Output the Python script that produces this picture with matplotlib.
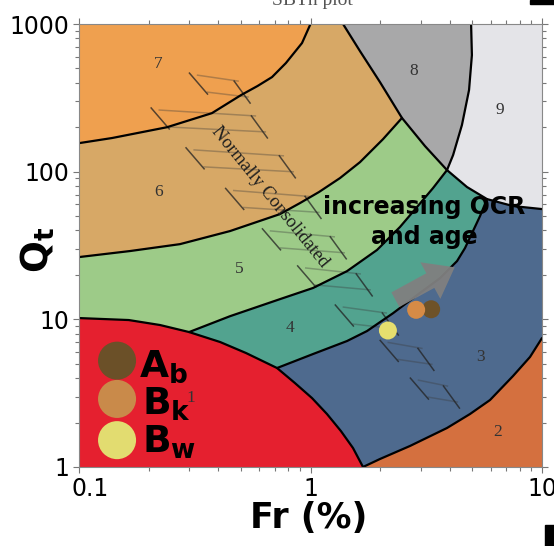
import matplotlib
matplotlib.use('Agg')
import numpy as np
import matplotlib.pyplot as plt
import matplotlib.transforms as mtransforms
from matplotlib.patches import Polygon, Rectangle
from matplotlib.ticker import NullFormatter

# zone boundaries, (Fr %, Qt), left to right
b76_fr = [0.1, 0.139, 0.24, 0.375, 0.501, 0.59, 0.682, 0.783, 0.919, 1.0]
b76_qt = [156, 169, 200, 249, 330, 380, 437, 544, 743, 1000]

b65_fr = [0.1, 0.166, 0.273, 0.449, 0.738, 0.901, 1.088, 1.341, 1.636, 2.057, 2.484]
b65_qt = [26.4, 29.0, 32.3, 39.6, 51.6, 61.3, 72.8, 90.5, 116, 166, 231]

b54_fr = [0.299, 0.449, 0.738, 1.025, 1.438, 1.938, 2.435, 2.884, 3.382, 3.887]
b54_qt = [8.2, 10.5, 13.7, 16.3, 21.2, 29.5, 42.2, 57.6, 77.4, 102.5]

b43_fr = [0.717, 1.025, 1.438, 1.754, 2.272, 2.972, 3.626, 4.295, 4.65, 5.034, 5.398, 5.787]
b43_qt = [4.68, 5.82, 7.13, 8.33, 11.0, 15.1, 19.0, 24.8, 30.4, 39.6, 50.0, 65.2]

b32_fr = [1.686, 1.996, 2.69, 3.887, 4.887, 5.963, 7.494, 8.875, 10]
b32_qt = [1.0, 1.133, 1.388, 1.837, 2.285, 2.842, 4.13, 5.56, 7.47]

b1_fr = [0.1, 0.164, 0.224, 0.299, 0.407, 0.527, 0.717, 0.857, 1.015, 1.178, 1.354, 1.526, 1.686]
b1_qt = [10.2, 9.89, 9.15, 8.2, 7.02, 5.91, 4.68, 3.70, 2.93, 2.285, 1.75, 1.345, 1.0]

# outer edge of zones 8 and 9 (top down to the right edge)
b8_fr = [1.382, 1.636, 1.996, 2.484, 3.123, 3.887, 4.742, 5.787, 7.494, 10]
b8_qt = [1000, 655, 404, 231, 149, 102.5, 78.7, 65.2, 58.5, 55.8]
# divider between 8 and 9 (top down to the junction)
b89_fr = [4.94, 4.98, 4.84, 4.51, 4.13, 3.887]
b89_qt = [1000, 616, 357, 207, 129.5, 102.5]

zone_colors = {1: '#e5202f', 2: '#d4703f', 3: '#4e6a8e', 4: '#52a38f',
               5: '#9dcb88', 6: '#d7a866', 7: '#efa04f', 8: '#a8a8a9', 9: '#e4e4e8'}
zone_labels = ['1', '2', '3', '4', '5', '6', '7', '8', '9']
label_fr = [0.305, 6.4, 5.4, 0.815, 0.49, 0.22, 0.22, 2.8, 6.6]
label_qt = [2.93, 1.73, 5.6, 8.7, 22, 73, 540, 480, 260]

# hatch marks along the normally consolidated band: anchor Fr, Qt, length (decades)
hatch_fr = [0.30, 0.205, 0.29, 0.43, 0.62, 0.88, 1.28, 2.0, 2.7]
hatch_qt = [465, 270, 145, 77, 41, 23, 12.5, 7.2, 4.0]
hatch_len = [0.21, 0.45, 0.42, 0.36, 0.31, 0.27, 0.22, 0.18, 0.16]

# samples
samples = ['A_b', 'B_k', 'B_w']
sample_colors = ['#6e5228', '#d68b46', '#e6df6e']
sample_fr = [3.32, 2.86, 2.16]
sample_qt = [11.7, 11.6, 8.4]
legend_colors = ['#6b5028', '#c98a4a', '#e2dc70']
legend_fr = 0.146
legend_qt = [5.25, 2.89, 1.52]
legend_txt_fr = [0.182, 0.187, 0.187]
legend_txt_qt = [4.07, 2.25, 1.244]
legend_txt = [r'$\mathbf{A}_{\mathbf{b}}$', r'$\mathbf{B}_{\mathbf{k}}$', r'$\mathbf{B}_{\mathbf{w}}$']

arrow_start = (2.27, 13.3)
arrow_end = (4.3, 23.0)


def pts(fr, qt):
    return list(zip(fr, qt))


def hatch_group(ax, fr, qt, span):
    # two near-flat strokes closed by two slanted ticks, offsets in decades
    x0, y0 = np.log10(fr), np.log10(qt)
    flat = [((x0 + 0.035, y0 - 0.014), (x0 + span, y0 - 0.054)),
            ((x0 + 0.078, y0 - 0.129), (x0 + span + 0.043, y0 - 0.162))]
    slant = [((x0, y0), (x0 + 0.078, y0 - 0.142)),
             ((x0 + span - 0.017, y0 - 0.054), (x0 + span + 0.052, y0 - 0.203))]
    for (a, b) in flat:
        ax.plot([10 ** a[0], 10 ** b[0]], [10 ** a[1], 10 ** b[1]],
                color='#3a3a3a', alpha=0.35, lw=1.1, zorder=3)
    for (a, b) in slant:
        ax.plot([10 ** a[0], 10 ** b[0]], [10 ** a[1], 10 ** b[1]],
                color='#222222', alpha=0.75, lw=1.1, zorder=3)


fig = plt.figure(figsize=(5.54, 5.46), dpi=100)
ax = fig.add_axes([79 / 554, 1 - 467 / 546, 463 / 554, 443 / 546])
ax.set_xscale('log')
ax.set_yscale('log')
ax.set_xlim(0.1, 10)
ax.set_ylim(1, 1000)
ax.set_facecolor(zone_colors[2])

polys = [
    (3, pts(b32_fr, b32_qt) + [(10, 1000), (0.1, 1000), (0.1, 1)]),
    (4, pts(b43_fr, b43_qt) + [(b43_fr[-1], 1000), (0.1, 1000), (0.1, 1), (b43_fr[0], 1)]),
    (5, pts(b54_fr, b54_qt) + [(b54_fr[-1], 1000), (0.1, 1000), (0.1, 1), (b54_fr[0], 1)]),
    (6, pts(b65_fr, b65_qt) + [(b65_fr[-1], 1000), (0.1, 1000)]),
    (7, pts(b76_fr, b76_qt) + [(0.1, 1000)]),
    (8, pts(b8_fr[:6], b8_qt[:6]) + pts(b89_fr[::-1], b89_qt[::-1])[1:]),
    (9, pts(b89_fr, b89_qt) + pts(b8_fr[6:], b8_qt[6:]) + [(10, 1000)]),
    (1, pts(b1_fr, b1_qt) + [(0.1, 1)]),
]
for z, verts in polys:
    ax.add_patch(Polygon(verts, closed=True, facecolor=zone_colors[z],
                         edgecolor='none', zorder=1))

for fr, qt in [(b76_fr, b76_qt), (b65_fr, b65_qt), (b54_fr, b54_qt), (b43_fr, b43_qt),
               (b32_fr, b32_qt), (b1_fr, b1_qt), (b8_fr, b8_qt), (b89_fr, b89_qt)]:
    ax.plot(fr, qt, color='black', lw=1.6, zorder=4, solid_capstyle='round')

for f, q, s in zip(hatch_fr, hatch_qt, hatch_len):
    hatch_group(ax, f, q, s)

for t, f, q in zip(zone_labels, label_fr, label_qt):
    ax.text(f, q, t, ha='center', va='center', fontsize=12.5,
            family='Liberation Serif', color='#333333', zorder=5)

ax.text(0.668, 67.3, 'Normally Consolidated', rotation=-51, rotation_mode='anchor',
        ha='center', va='center', fontsize=13.5, family='Liberation Serif',
        color='#1e1e1e', zorder=5)

ax.annotate('', xy=arrow_end, xytext=arrow_start, zorder=6,
            arrowprops=dict(arrowstyle='simple,head_width=1.5,head_length=1.0,tail_width=0.6',
                            mutation_scale=20, color='#808080', alpha=0.95, lw=0))

ax.text(3.09, 45.6, 'increasing OCR\nand age', ha='center', va='center', fontsize=17,
        fontweight='bold', linespacing=1.3, color='black', zorder=7)

ax.scatter(sample_fr, sample_qt, s=168, c=sample_colors, edgecolors='none', zorder=8)

ax.scatter([legend_fr] * 3, legend_qt, s=750, c=legend_colors, edgecolors='none', zorder=8)
for t, f, q in zip(legend_txt, legend_txt_fr, legend_txt_qt):
    ax.text(f, q, t, ha='left', va='baseline', fontsize=27, color='black', zorder=8)

ax.set_xticks([0.1, 1, 10])
ax.set_xticklabels(['0.1', '1', '10'])
ax.set_yticks([1, 10, 100, 1000])
ax.set_yticklabels(['1', '10', '100', '1000'])
ax.xaxis.set_minor_formatter(NullFormatter())
ax.yaxis.set_minor_formatter(NullFormatter())
ax.tick_params(which='both', labelsize=17, color='#777777', width=0.8,
               top=True, right=True)
ax.tick_params(which='major', length=4, pad=3)
ax.tick_params(which='minor', length=3)
for side in ['top', 'right', 'left', 'bottom']:
    ax.spines[side].set_color('#888888')
    ax.spines[side].set_linewidth(0.8)
    ax.spines[side].set_zorder(9)

lab = ax.get_xticklabels()[0]
lab.set_transform(lab.get_transform() + mtransforms.ScaledTranslation(0.11, 0, fig.dpi_scale_trans))

fig.text(38 / 554, 1 - 250 / 546, r'$\mathbf{Q}_{\mathbf{t}}$', rotation=90,
         ha='center', va='center', fontsize=27)
fig.text(309 / 554, 1 - 518 / 546, 'Fr (%)', ha='center', va='center',
         fontsize=25, fontweight='bold')

# cropped title and scan artefacts at the edges
fig.text(312 / 554, 1 - 5 / 546, 'SBTn plot', ha='center', va='baseline', fontsize=14,
         family='Liberation Serif', color='#555555')
fig.add_artist(Rectangle((530, 542), 24, 4, transform=None, color='black'))
fig.add_artist(Rectangle((545, 0), 9, 21, transform=None, color='black'))

fig.savefig('out.png', dpi=100)
